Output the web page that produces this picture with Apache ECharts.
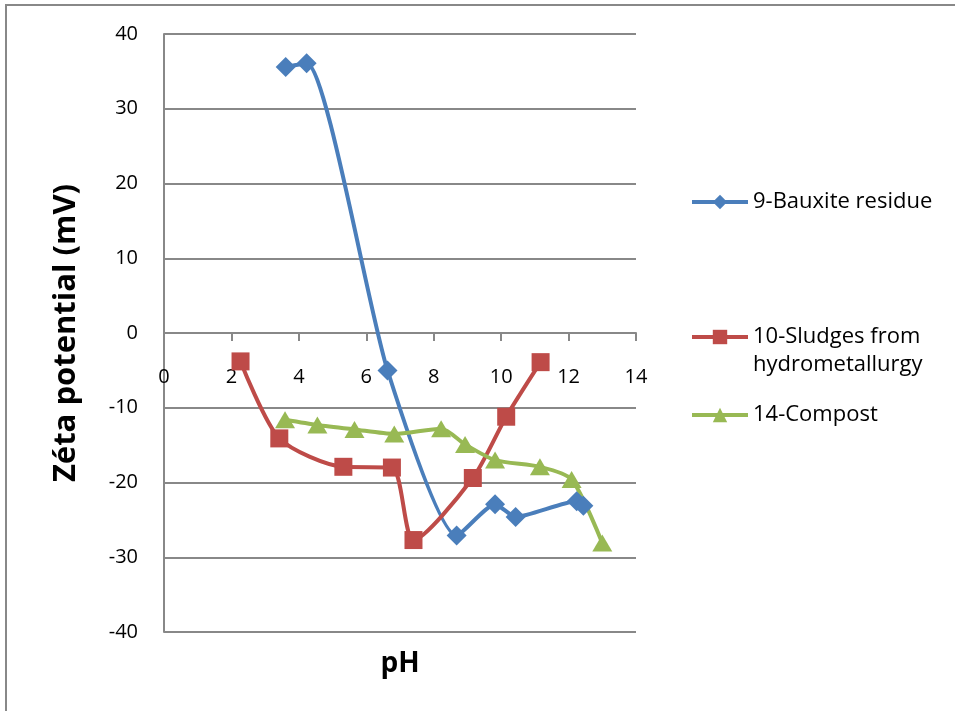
<!DOCTYPE html>
<html>
<head>
<meta charset="utf-8">
<script src="https://cdn.jsdelivr.net/npm/echarts@6/dist/echarts.min.js"></script>
<style>
html,body{margin:0;padding:0;background:#fff;}
#chart{width:955px;height:711px;}
</style>
</head>
<body>
<div id="chart"></div>
<script>
// Series names
var seriesNames = ['9-Bauxite residue', '10-Sludges from hydrometallurgy', '14-Compost'];

// 9-Bauxite residue
var bauxitePH   = [3.61, 4.23, 6.63, 8.68, 9.82, 10.43, 12.24, 12.44];
var bauxiteZeta = [35.6, 36.1, -5.0, -27.1, -22.9, -24.6, -22.5, -23.1];

// 10-Sludges from hydrometallurgy
var sludgePH   = [2.27, 3.42, 5.32, 6.76, 7.40, 9.16, 10.15, 11.17];
var sludgeZeta = [-3.8, -14.1, -17.9, -18.0, -27.7, -19.4, -11.2, -3.9];

// 14-Compost
var compostPH   = [3.59, 4.55, 5.65, 6.83, 8.22, 8.93, 9.82, 11.15, 12.09, 13.0];
var compostZeta = [-11.6, -12.3, -12.9, -13.5, -12.8, -14.9, -17.0, -17.9, -19.6, -28.1];

function pairs(xs, ys) { return xs.map(function (x, i) { return [x, ys[i]]; }); }

var FONT = 'Open Sans';
var GRAY = '#888888';
var colors = ['#4A7EBB', '#BE4B48', '#98B954'];

var chart = echarts.init(document.getElementById('chart'), null, {renderer: 'canvas'});

function legendFor(i, top, formatter) {
  var l = {
    show: true,
    orient: 'vertical',
    left: 690,
    top: top,
    padding: 0,
    data: [seriesNames[i]],
    itemWidth: 56,
    itemHeight: 18,
    itemGap: 0,
    selectedMode: false,
    lineStyle: {width: 4},
    textStyle: {fontFamily: FONT, fontSize: 22, color: '#000', lineHeight: 28}
  };
  if (formatter) l.formatter = formatter;
  return l;
}

var option = {
  animation: false,
  backgroundColor: '#fff',
  color: colors,
  graphic: [{
    type: 'rect',
    shape: {x: 6, y: 5, width: 1200, height: 1200},
    style: {fill: 'none', stroke: GRAY, lineWidth: 2},
    silent: true, z: -10
  }],
  legend: [
    legendFor(0, 188),
    legendFor(1, 295, function () { return '\n10-Sludges from\nhydrometallurgy'; }),
    legendFor(2, 401)
  ],
  grid: {left: 164, right: 319, top: 34, bottom: 79, containLabel: false, outerBoundsMode: 'none'},
  xAxis: {
    type: 'value', min: 0, max: 14, interval: 2,
    offset: -299,
    name: 'pH', nameLocation: 'middle', nameGap: 317,
    nameTextStyle: {fontFamily: FONT, fontSize: 28, fontWeight: 'bold', color: '#000'},
    axisLine: {show: true, onZero: false, lineStyle: {color: GRAY, width: 2}},
    axisTick: {show: true, inside: false, length: 8, lineStyle: {color: GRAY, width: 2}},
    axisLabel: {show: true, margin: 34, fontFamily: FONT, fontSize: 20, color: '#000'},
    splitLine: {show: false}
  },
  yAxis: {
    type: 'value', min: -40, max: 40, interval: 10,
    name: 'Zéta potential (mV)', nameLocation: 'middle', nameGap: 82,
    nameTextStyle: {fontFamily: FONT, fontSize: 31, fontWeight: 'bold', color: '#000'},
    axisLine: {show: true, onZero: false, lineStyle: {color: GRAY, width: 2}},
    axisTick: {show: false},
    axisLabel: {show: true, margin: 26, fontFamily: FONT, fontSize: 20, color: '#000'},
    splitLine: {show: true, lineStyle: {color: GRAY, width: 2}}
  },
  series: [{
    name: seriesNames[0], type: 'line', smooth: 0.2,
    data: pairs(bauxitePH, bauxiteZeta),
    symbol: 'diamond', symbolSize: 20,
    lineStyle: {width: 4, color: colors[0]},
    itemStyle: {color: colors[0]}
  }, {
    name: seriesNames[1], type: 'line', smooth: 0.25,
    data: pairs(sludgePH, sludgeZeta),
    symbol: 'rect', symbolSize: 18,
    lineStyle: {width: 4, color: colors[1]},
    itemStyle: {color: colors[1]}
  }, {
    name: seriesNames[2], type: 'line', smooth: 0.25,
    data: pairs(compostPH, compostZeta),
    symbol: 'triangle', symbolSize: [20, 17],
    lineStyle: {width: 4, color: colors[2]},
    itemStyle: {color: colors[2]}
  }]
};
chart.setOption(option);
</script>
</body>
</html>
